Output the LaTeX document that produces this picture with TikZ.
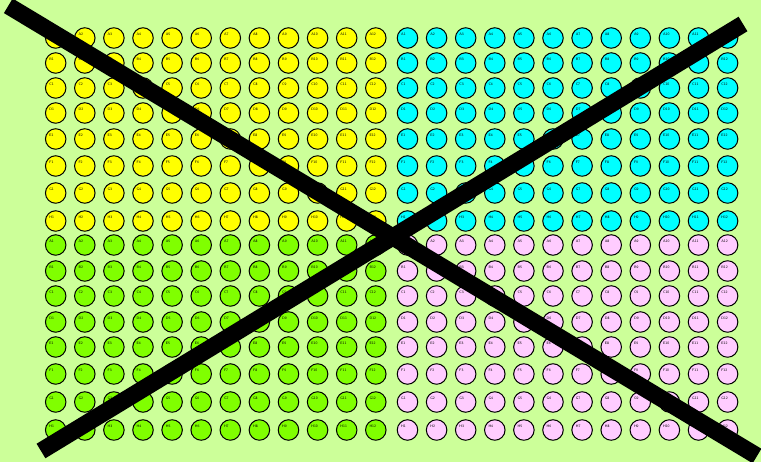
\documentclass[tikz,border=0pt]{standalone}
\definecolor{bg}{RGB}{204,255,153}
\definecolor{wyellow}{RGB}{255,255,0}
\definecolor{wcyan}{RGB}{0,255,255}
\definecolor{wgreen}{RGB}{128,255,0}
\definecolor{wpink}{RGB}{255,204,255}
\begin{document}
\begin{tikzpicture}[x=1pt,y=-1pt,
  well/.style={circle,draw=black,line width=1pt,minimum size=20.5pt,inner sep=0pt},
  lbl/.style={font=\sffamily\fontsize{3.6}{3.6}\selectfont,inner sep=0pt,anchor=west,text=black},
  crossline/.style={line width=17pt,draw=black}]
\fill[bg] (0,0) rectangle (761,462);
\useasboundingbox (0,0) rectangle (761,462);
% top half: yellow (left) and cyan (right)
\foreach \y/\L in {38/A,63/B,88/C,113/D,139/E,166/F,193/G,221/H}{
  \foreach \c in {1,...,12}{
    \pgfmathsetmacro\xl{55.7+29.1*(\c-1)}
    \pgfmathsetmacro\xr{407.5+29.1*(\c-1)}
    \node[well,fill=wyellow] (Y\L\c) at (\xl,\y) {};
    \node[lbl] (lY\L\c) at ([shift={(-6.5,-4)}]Y\L\c.center) {\L\c};
    \node[well,fill=wcyan] (C\L\c) at (\xr,\y) {};
    \node[lbl] (lC\L\c) at ([shift={(-6.5,-4)}]C\L\c.center) {\L\c};
  }
}
% bottom half: green (left) and pink (right)
\foreach \y/\L in {245/A,271/B,296/C,322/D,347/E,374/F,402/G,430/H}{
  \foreach \c in {1,...,12}{
    \pgfmathsetmacro\xl{55.7+29.1*(\c-1)}
    \pgfmathsetmacro\xr{407.5+29.1*(\c-1)}
    \node[well,fill=wgreen] (G\L\c) at (\xl,\y) {};
    \node[lbl] (lG\L\c) at ([shift={(-6.5,-4)}]G\L\c.center) {\L\c};
    \node[well,fill=wpink] (P\L\c) at (\xr,\y) {};
    \node[lbl] (lP\L\c) at ([shift={(-6.5,-4)}]P\L\c.center) {\L\c};
  }
}
% the big cross
\coordinate (xa1) at (8.3,5.8);
\coordinate (xa2) at (757,456);
\coordinate (xb1) at (41,451);
\coordinate (xb2) at (743,24);
\draw[crossline] (xa1) -- (xa2);
\draw[crossline] (xb1) -- (xb2);
\end{tikzpicture}
\end{document}
